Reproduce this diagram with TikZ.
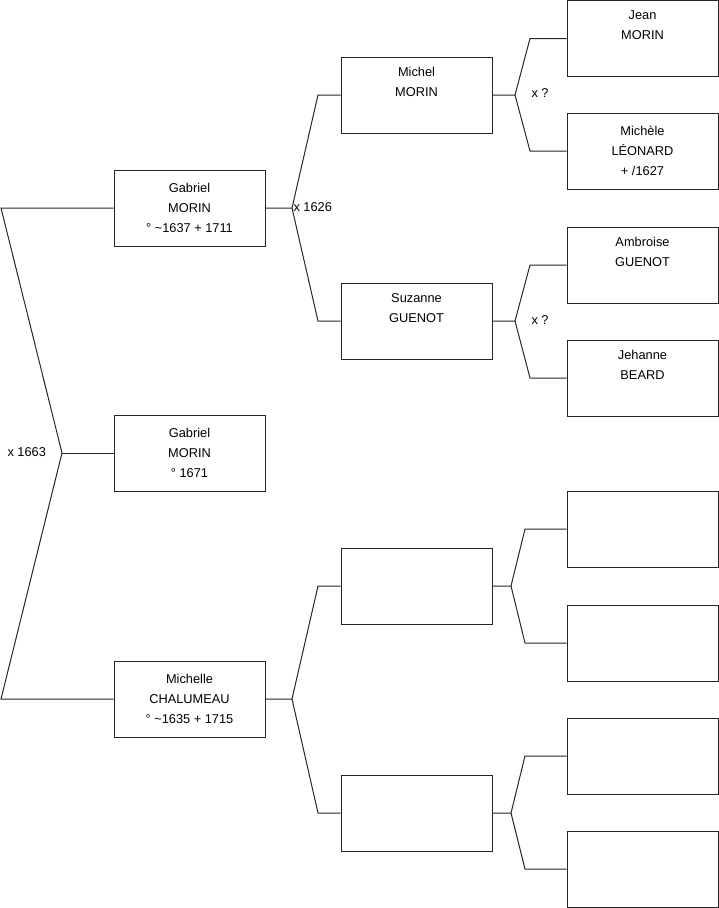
\documentclass[tikz,border=0pt]{standalone}
\usepackage{fontspec}
\setmainfont{Liberation Sans}
\begin{document}
\begin{tikzpicture}[x=1pt,y=-1pt,line width=1pt,
  person/.style={draw=black!85,fill=white,minimum width=151pt,minimum height=76pt,inner sep=0pt,
    align=center,font=\fontsize{12.8}{20}\selectfont},
  lbl/.style={inner sep=0pt,font=\fontsize{12.8}{14}\selectfont},
  link/.style={draw=black!85,line width=1pt}]
\useasboundingbox (0,0) rectangle (719,908);
% column 1
\node[person] (g) at (189.5,208) {Gabriel\\MORIN\\° \textasciitilde 1637 + 1711};
\node[person] (c) at (189.5,453) {Gabriel\\MORIN\\° 1671};
\node[person] (m) at (189.5,699) {Michelle\\CHALUMEAU\\° \textasciitilde 1635 + 1715};
% column 2
\node[person] (mi) at (416.5,95) {Michel\\MORIN\\\strut};
\node[person] (su) at (416.5,321) {Suzanne\\GUENOT\\\strut};
\node[person] (b1) at (416.5,586) {};
\node[person] (b2) at (416.5,813) {};
% column 3
\node[person] (je) at (642.5,38.5) {Jean\\MORIN\\\strut};
\node[person] (ml) at (642.5,151) {Michèle\\LÉONARD\\+ /1627};
\node[person] (am) at (642.5,265) {Ambroise\\GUENOT\\\strut};
\node[person] (jh) at (642.5,378) {Jehanne\\BEARD\\\strut};
\node[person] (e1) at (642.5,529) {};
\node[person] (e2) at (642.5,643) {};
\node[person] (e3) at (642.5,756) {};
\node[person] (e4) at (642.5,869) {};
% fork coordinates
\coordinate (l1) at (1,208);
\coordinate (j0) at (62,453);
\coordinate (l2) at (1,699);
\coordinate (jg) at (292,208);
\coordinate (jg1) at (318,95);
\coordinate (jg2) at (318,321);
\coordinate (jmi) at (515,95);
\coordinate (jmi1) at (530,38.5);
\coordinate (jmi2) at (530,151);
\coordinate (jsu) at (515,321);
\coordinate (jsu1) at (530,265);
\coordinate (jsu2) at (530,378);
\coordinate (jm) at (292,699);
\coordinate (jm1) at (318,586);
\coordinate (jm2) at (318,813);
\coordinate (jb1) at (511,586);
\coordinate (jb11) at (525,529);
\coordinate (jb12) at (525,643);
\coordinate (jb2) at (511,813);
\coordinate (jb21) at (525,756);
\coordinate (jb22) at (525,869);
% connectors
\draw[link] (g.west) -- (l1) -- (j0) -- (l2) -- (m.west);
\draw[link] (j0) -- (c.west);
\draw[link] (g.east) -- (jg) -- (jg1) -- (mi.west);
\draw[link] (jg) -- (jg2) -- (su.west);
\draw[link] (mi.east) -- (jmi) -- (jmi1) -- (je.west);
\draw[link] (jmi) -- (jmi2) -- (ml.west);
\draw[link] (su.east) -- (jsu) -- (jsu1) -- (am.west);
\draw[link] (jsu) -- (jsu2) -- (jh.west);
\draw[link] (m.east) -- (jm) -- (jm1) -- (b1.west);
\draw[link] (jm) -- (jm2) -- (b2.west);
\draw[link] (b1.east) -- (jb1) -- (jb11) -- (e1.west);
\draw[link] (jb1) -- (jb12) -- (e2.west);
\draw[link] (b2.east) -- (jb2) -- (jb21) -- (e3.west);
\draw[link] (jb2) -- (jb22) -- (e4.west);
% labels
\node[lbl,anchor=west] (x1663) at (7,452) {x 1663};
\node[lbl,anchor=west] (x1626) at (293,207) {x 1626};
\node[lbl,anchor=west] (xq1) at (531,93) {x ?};
\node[lbl,anchor=west] (xq2) at (531,320) {x ?};
\end{tikzpicture}
\end{document}
